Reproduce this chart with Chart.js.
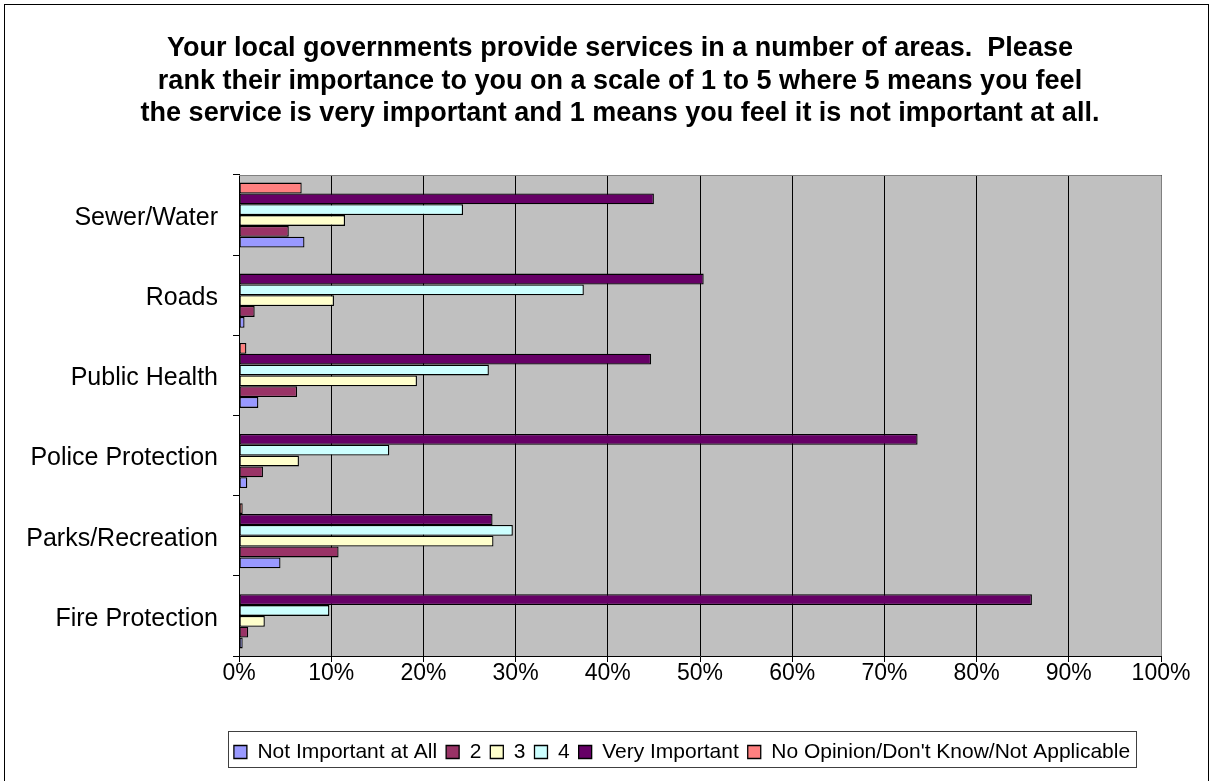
<!DOCTYPE html>
<html><head><meta charset="utf-8">
<script src="https://cdn.jsdelivr.net/npm/chart.js@4/dist/chart.umd.min.js"></script>
<style>html,body{margin:0;padding:0;background:#fff;}#wrap{width:1212px;height:781px;position:relative;}</style>
</head><body><div id="wrap"><canvas id="c" width="1212" height="781"></canvas></div>
<script>
const titleLines = [
  'Your local governments provide services in a number of areas.  Please',
  'rank their importance to you on a scale of 1 to 5 where 5 means you feel',
  'the service is very important and 1 means you feel it is not important at all.'
];
const categories = ['Sewer/Water', 'Roads', 'Public Health', 'Police Protection', 'Parks/Recreation', 'Fire Protection'];
const seriesNames = ['Not Important at All', '2', '3', '4', 'Very Important', "No Opinion/Don't Know/Not Applicable"];
const notImportant = [7.1, 0.6, 2.1, 0.9, 4.5, 0.4];
const rating2 = [5.4, 1.7, 6.3, 2.6, 10.8, 1.0];
const rating3 = [11.5, 10.3, 19.3, 6.5, 27.6, 2.8];
const rating4 = [24.3, 37.4, 27.1, 16.3, 29.7, 9.8];
const veryImportant = [45.0, 50.4, 44.7, 73.6, 27.5, 86.0];
const noOpinion = [6.8, 0, 0.8, 0, 0.4, 0];
const xTicks = [0, 10, 20, 30, 40, 50, 60, 70, 80, 90, 100];

const colors = ['#9999FF', '#993366', '#FFFFCC', '#CCFFFF', '#660066', '#FF8080'];
const values = [notImportant, rating2, rating3, rating4, veryImportant, noOpinion];
const FONT = '"Liberation Sans", Arial, Helvetica, sans-serif';

// Excel draws series 1 at the bottom of each group: reverse datasets, reverse legend back
const datasets = values.map((v, i) => ({
  label: seriesNames[i],
  data: v,
  backgroundColor: colors[i],
  borderColor: '#000',
  borderWidth: 1.3,
  borderSkipped: false,
  categoryPercentage: 0.81,
  barPercentage: 1.0
})).reverse();

const framePlugin = {
  id: 'frame',
  afterLayout(chart) {
    if (chart.titleBlock) { chart.titleBlock.left = 0; chart.titleBlock.right = 1240; }
    if (chart.legend) { chart.legend.left = 166; chart.legend.right = 1198; }
  },
  beforeDraw(chart) {
    const ctx = chart.ctx, a = chart.chartArea;
    ctx.save();
    ctx.fillStyle = '#fff';
    ctx.fillRect(0, 0, chart.width, chart.height);
    ctx.strokeStyle = '#000';
    ctx.lineWidth = 1;
    ctx.strokeRect(4.5, 4.5, chart.width - 8, chart.height + 10);
    ctx.fillStyle = '#C0C0C0';
    ctx.fillRect(a.left, a.top, a.right - a.left, a.bottom - a.top);
    ctx.restore();
  },
  beforeDatasetsDraw(chart) {
    const ctx = chart.ctx, a = chart.chartArea;
    ctx.save();
    ctx.strokeStyle = '#808080';
    ctx.lineWidth = 1;
    ctx.beginPath();
    ctx.moveTo(Math.round(a.left), Math.round(a.top) + 0.5);
    ctx.lineTo(Math.round(a.right) + 0.5, Math.round(a.top) + 0.5);
    ctx.lineTo(Math.round(a.right) + 0.5, Math.round(a.bottom));
    ctx.stroke();
    ctx.restore();
  },
  afterDraw(chart) {
    const lg = chart.legend;
    if (!lg || !lg.legendHitBoxes || !lg.legendHitBoxes.length) return;
    const hb = lg.legendHitBoxes;
    const l = Math.min(...hb.map(h => h.left));
    const r = Math.max(...hb.map(h => h.left + h.width));
    const ctx = chart.ctx;
    ctx.save();
    ctx.strokeStyle = '#404040';
    ctx.lineWidth = 1;
    ctx.strokeRect(Math.round(l - 6) + 0.5, Math.round(lg.top) - 1.5, Math.round(r - l + 12), 36);
    ctx.restore();
  }
};

new Chart(document.getElementById('c'), {
  type: 'bar',
  data: { labels: categories, datasets: datasets },
  options: {
    indexAxis: 'y',
    responsive: false,
    animation: false,
    layout: { padding: { left: 5, right: 51, top: 0, bottom: 8.5 } },
    plugins: {
      title: {
        display: true,
        text: titleLines,
        color: '#000',
        font: { family: FONT, size: 27, weight: 'bold', lineHeight: 1.2037 },
        padding: { top: 32.75, bottom: 44.75 }
      },
      legend: {
        display: true,
        position: 'bottom',
        reverse: true,
        labels: {
          color: '#000',
          font: { family: FONT, size: 21 },
          boxWidth: 13,
          boxHeight: 13,
          padding: 9
        }
      },
      tooltip: { enabled: false }
    },
    scales: {
      x: {
        min: 0,
        max: 100,
        afterBuildTicks(s) { s.ticks = xTicks.map(v => ({ value: v })); },
        afterFit(s) { s.height = 76.5; },
        ticks: {
          color: '#000',
          font: { family: FONT, size: 23 },
          padding: -2,
          maxRotation: 0,
          callback: v => v + '%'
        },
        grid: { color: '#000', lineWidth: 1, tickLength: 6, drawTicks: true },
        border: { color: '#000', width: 1 }
      },
      y: {
        afterFit(s) { s.width = 234; },
        ticks: {
          color: '#000',
          font: { family: FONT, size: 25 },
          padding: 15,
          labelOffset: 3
        },
        grid: { color: '#000', offset: true, drawOnChartArea: false, tickLength: 6 },
        border: { color: '#000', width: 1 }
      }
    }
  },
  plugins: [framePlugin]
});
</script>
</body></html>
